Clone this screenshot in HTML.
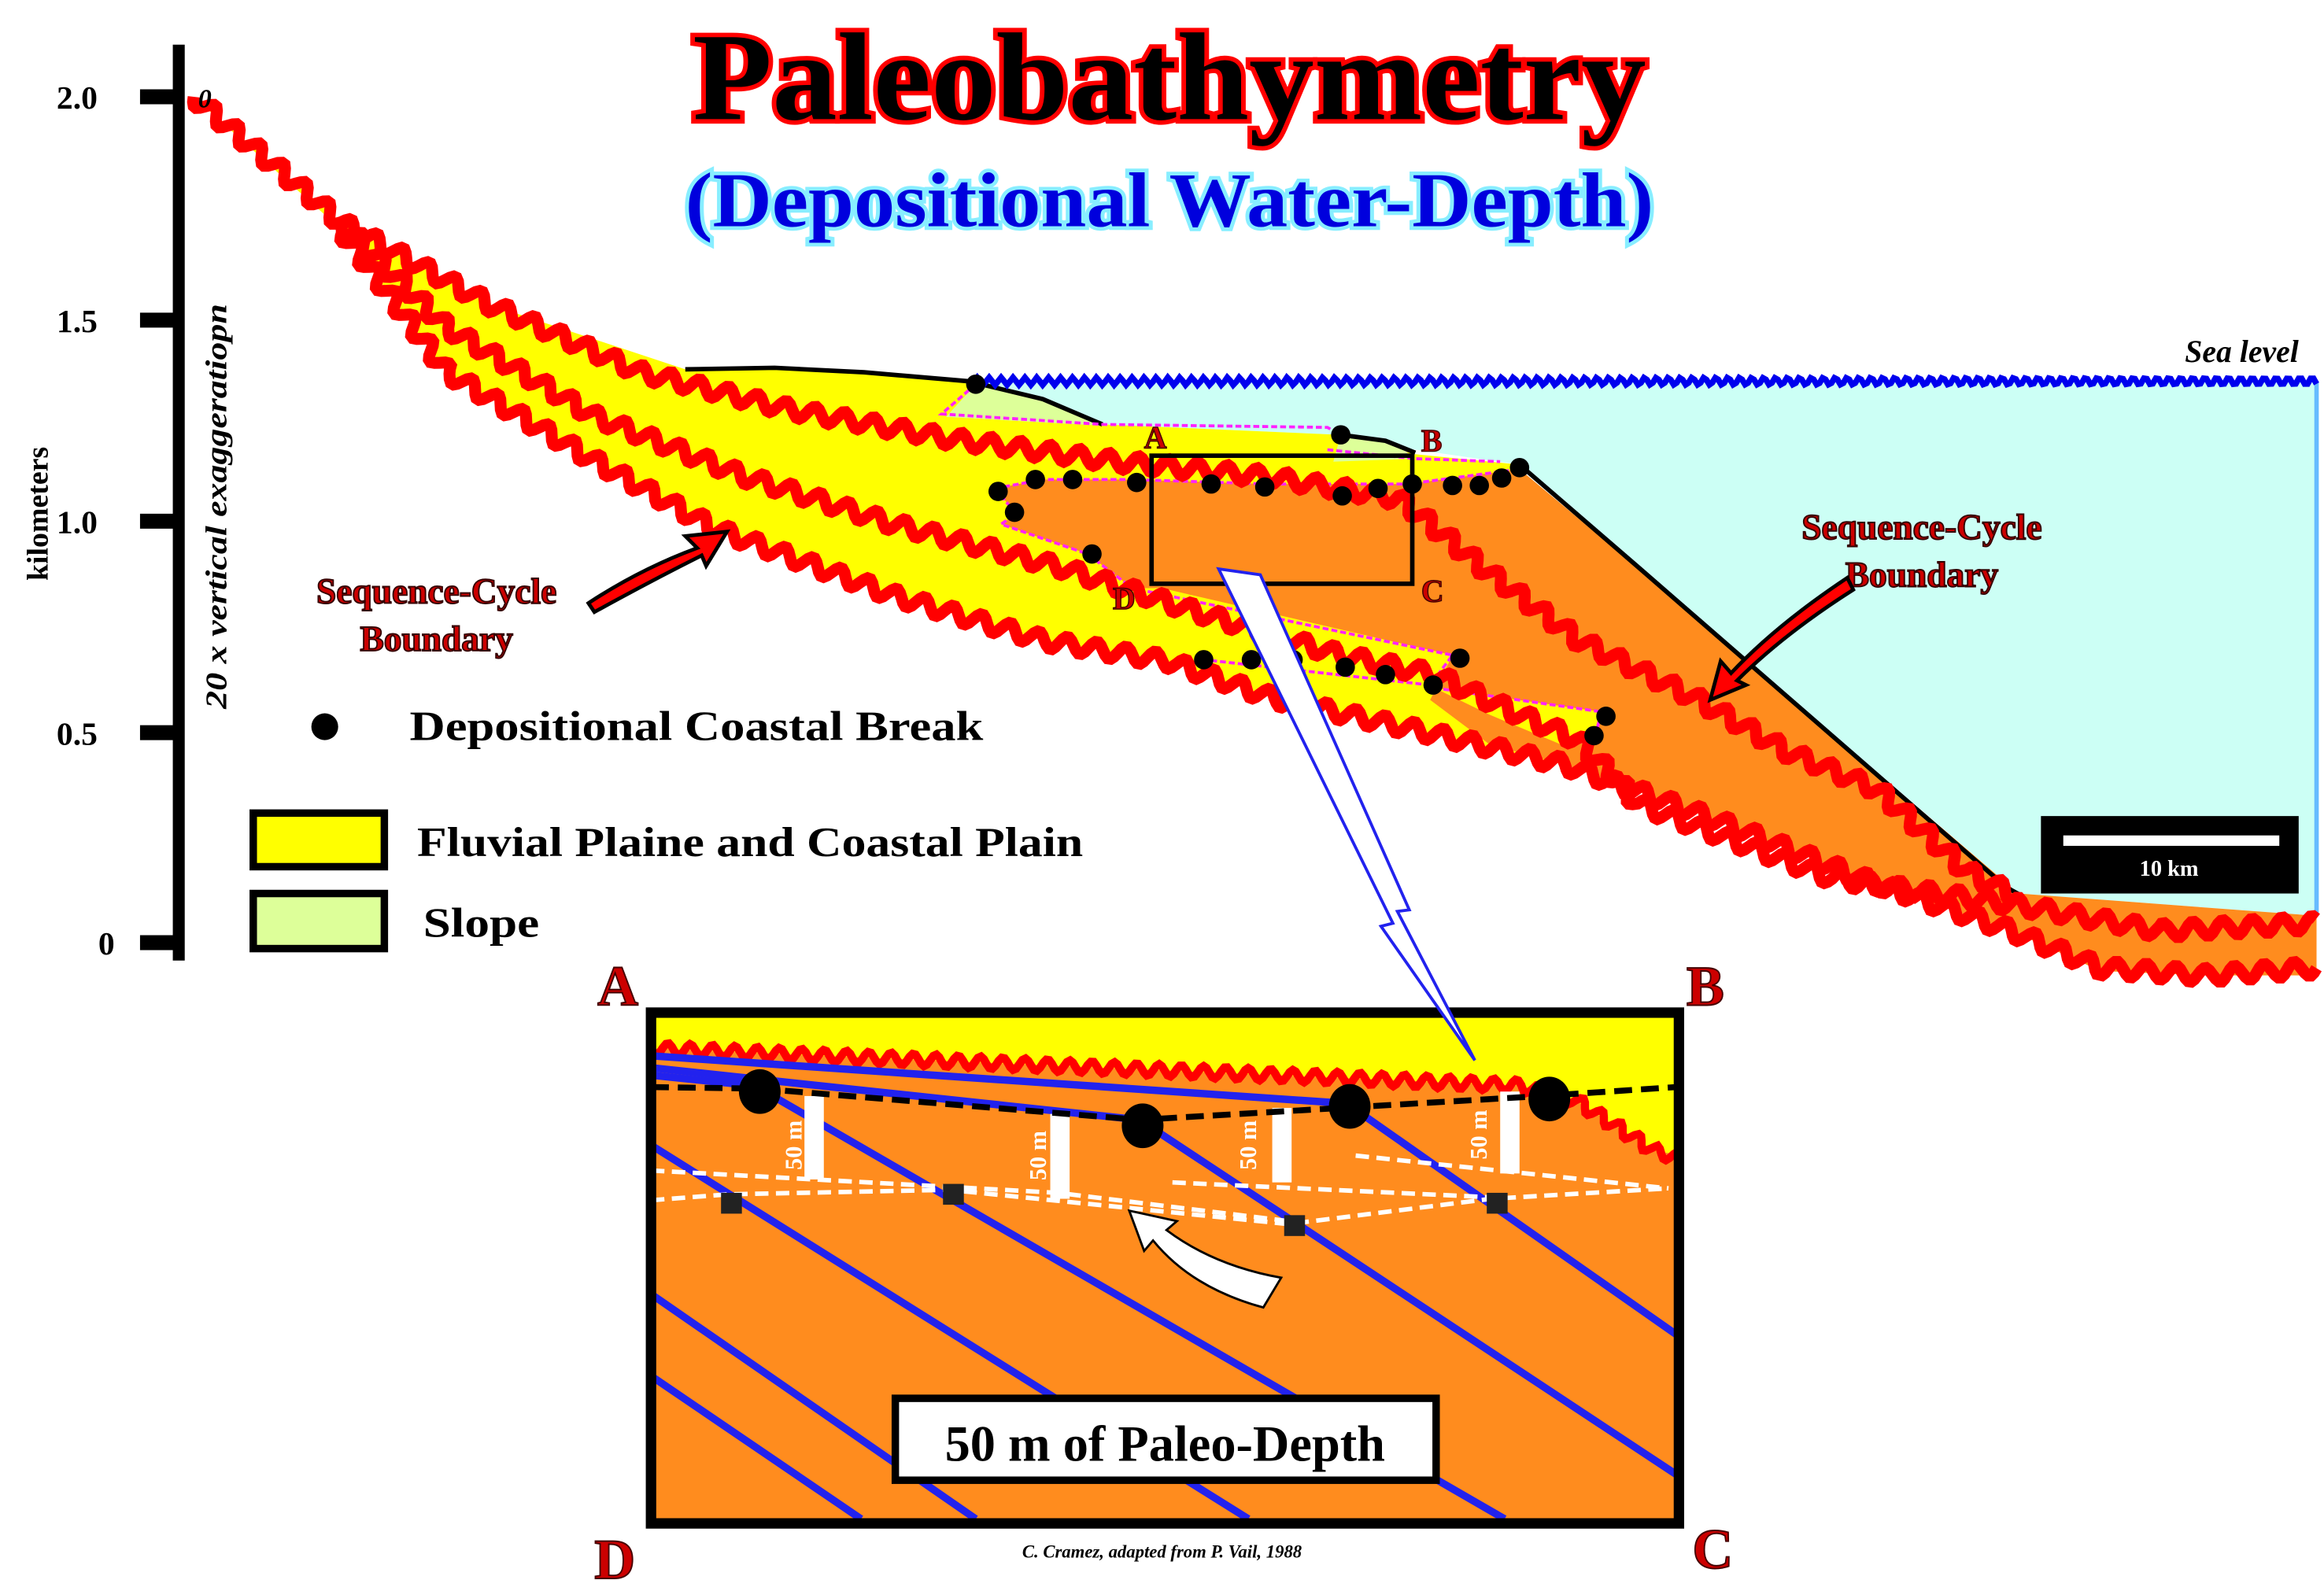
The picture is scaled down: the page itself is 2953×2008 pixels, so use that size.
<!DOCTYPE html>
<html><head><meta charset="utf-8"><style>
html,body{margin:0;padding:0;background:#fff;}
svg{display:block;}
text{font-family:"Liberation Serif",serif;font-weight:bold;}
</style></head><body>
<svg id="s" width="2953" height="2008" viewBox="0 0 1560 1061" preserveAspectRatio="none" xmlns="http://www.w3.org/2000/svg">
<polygon points="650,256 1555,256 1555,615 1355,600 1020,312 950,302 900,292 740,285 700,268 650,256" fill="#ccfff5"/>
<line x1="1555" y1="256" x2="1555" y2="615" stroke="#66bbff" stroke-width="3"/>
<polygon points="130,65 230,150 330,205 460,248 560,248 650,256 700,268 740,285 900,292 950,305 1020,312 1000,385 1060,430 1080,500 1052,514 950,490 855,469 784,444 700,430 600,400 480,355 400,310 300,250 230,155" fill="#ffff00"/>
<polygon points="655,258 700,268 742,286 635,280" fill="#ddff99"/>
<polygon points="900,292 935,297 950,308 895,310" fill="#ddff99"/>
<polygon points="668,328 700,322 760,322 850,325 945,325 1020,315 1100,382 1355,600 1555,615 1555,655 1480,655 1410,652 1350,625 1250,590 1150,550 1052,514 1000,500 960,470 975,440 780,395 760,395 730,372 672,352 682,345" fill="#ff8c1e"/>
<polygon points="760,395 975,440 960,462 808,445 790,420" fill="#ffff00"/>
<polygon points="963,462 1075,478 1070,497 1048,500 1000,480" fill="#ffff00"/>
<polyline points="460,248 520,247 580,250 650,256 700,268 740,285" fill="none" stroke="#000" stroke-width="3"/>
<polyline points="900,292 930,296 950,304" fill="none" stroke="#000" stroke-width="3"/>
<polyline points="1020,312 1101,382 1347,596 1358,602" fill="none" stroke="#000" stroke-width="3"/>
<g fill="none" stroke="#ff22ff" stroke-width="2" stroke-dasharray="4,2">
<polyline points="655,258 632,278 740,285 891,287 900,292"/>
<polyline points="891,302 950,308 1007,310"/>
<polyline points="668,328 700,322 760,322 850,325 945,325 1020,315"/>
<polyline points="668,328 682,345 672,352 730,372 760,395 975,440 960,460 808,443"/>
<polyline points="963,462 1075,478 1070,497 1048,500"/>
</g>
<path id="w1" d="M130,65 L230,150 L330,205 L430,250 L530,275 L640,295 L750,310 L850,320 L940,335 L1000,385 L1060,430 L1140,470 L1200,505 L1260,530 L1320,585 L1350,600" fill="none" stroke="#ff0000" stroke-width="8"/>
<path id="w2" d="M230,150 L300,220 L400,280 L500,320 L600,352 L712,381 L800,410 L900,440 L963,453 L1020,480 L1060,497 L1100,540 L1230,590 L1356,608 L1450,625 L1555,620" fill="none" stroke="#ff0000" stroke-width="8"/>
<path id="w3" d="M230,155 L300,250 L400,310 L480,355 L600,400 L700,430 L784,444 L855,469 L950,490 L1052,514 L1150,550 L1250,590 L1350,625 L1410,650 L1480,655 L1555,650" fill="none" stroke="#ff0000" stroke-width="8"/>
<path id="sea" d="M650,256 L1555,256" fill="none" stroke="#0000ee" stroke-width="4"/>
<g fill="#000">
<circle cx="655" cy="258" r="6.5"/><circle cx="900" cy="292" r="6.5"/><circle cx="670" cy="330" r="6.5"/><circle cx="695" cy="322" r="6.5"/><circle cx="720" cy="322" r="6.5"/><circle cx="763" cy="324" r="6.5"/><circle cx="813" cy="325" r="6.5"/><circle cx="849" cy="327" r="6.5"/><circle cx="901" cy="333" r="6.5"/><circle cx="925" cy="328" r="6.5"/><circle cx="948" cy="325" r="6.5"/><circle cx="975" cy="326" r="6.5"/><circle cx="993" cy="326" r="6.5"/><circle cx="1008" cy="321" r="6.5"/><circle cx="1020" cy="314" r="6.5"/><circle cx="681" cy="344" r="6.5"/><circle cx="733" cy="372" r="6.5"/><circle cx="808" cy="443" r="6.5"/><circle cx="840" cy="443" r="6.5"/><circle cx="868" cy="443" r="6.5"/><circle cx="903" cy="448" r="6.5"/><circle cx="930" cy="453" r="6.5"/><circle cx="962" cy="460" r="6.5"/><circle cx="980" cy="442" r="6.5"/><circle cx="1078" cy="481" r="6.5"/><circle cx="1070" cy="494" r="6.5"/>
</g>
<rect x="773" y="306" width="175" height="86" fill="none" stroke="#000" stroke-width="3"/>
<g fill="#cc0000" stroke="#400" stroke-width="0.8" font-size="21">
<text x="768" y="301">A</text><text x="954" y="303">B</text><text x="954" y="404">C</text><text x="747" y="409">D</text>
</g>
<line x1="120" y1="30" x2="120" y2="645" stroke="#000" stroke-width="8"/>
<g stroke="#000" stroke-width="10">
<line x1="94" y1="65" x2="120" y2="65"/><line x1="94" y1="215" x2="120" y2="215"/><line x1="94" y1="350" x2="120" y2="350"/><line x1="94" y1="492" x2="120" y2="492"/><line x1="94" y1="633" x2="120" y2="633"/>
</g>
<g font-size="22" fill="#000">
<text x="38" y="73">2.0</text><text x="38" y="223">1.5</text><text x="38" y="358">1.0</text><text x="38" y="500">0.5</text><text x="66" y="641">0</text>
</g>
<text x="133" y="72" font-size="18" font-style="italic">0</text>
<text transform="translate(32,345) rotate(-90)" text-anchor="middle" font-size="20" font-family="Liberation Sans">kilometers</text>
<text transform="translate(152,340) rotate(-90)" text-anchor="middle" font-size="20" font-style="italic" textLength="272" lengthAdjust="spacingAndGlyphs">20 x vertical exaggeratiopn</text>
<text x="785" y="80" text-anchor="middle" font-size="84" fill="#000" stroke="#ff0000" stroke-width="6" paint-order="stroke" textLength="640" lengthAdjust="spacingAndGlyphs">Paleobathymetry</text>
<text x="785" y="152" text-anchor="middle" font-size="52" fill="#0000dd" stroke="#88eeff" stroke-width="5" paint-order="stroke" textLength="650" lengthAdjust="spacingAndGlyphs">(Depositional Water-Depth)</text>
<text x="1543" y="243" text-anchor="end" font-size="21" font-style="italic">Sea level</text>
<g font-size="24" fill="#cc0000" stroke="#300" stroke-width="1" text-anchor="middle">
<text x="293" y="405">Sequence-Cycle</text><text x="293" y="437">Boundary</text>
<text x="1290" y="362">Sequence-Cycle</text><text x="1290" y="394">Boundary</text>
</g>
<path d="M395,405 Q430,382 468,368 L460,360 L488,357 L474,380 L471,373 Q437,390 399,411 Z" fill="#ff0000" stroke="#000" stroke-width="2.5"/>
<path d="M1240,388 Q1192,420 1162,452 L1155,444 L1148,470 L1172,460 L1166,457 Q1197,426 1244,396 Z" fill="#ff0000" stroke="#000" stroke-width="2.5"/>
<circle cx="218" cy="488" r="9" fill="#000"/>
<text x="275" y="497" font-size="28" textLength="385" lengthAdjust="spacingAndGlyphs">Depositional Coastal Break</text>
<rect x="170" y="546" width="88" height="36" fill="#ffff00" stroke="#000" stroke-width="5"/>
<text x="280" y="575" font-size="28" textLength="447" lengthAdjust="spacingAndGlyphs">Fluvial Plaine and Coastal Plain</text>
<rect x="170" y="600" width="88" height="37" fill="#ddff99" stroke="#000" stroke-width="5"/>
<text x="284" y="629" font-size="28" textLength="78" lengthAdjust="spacingAndGlyphs">Slope</text>
<rect x="1370" y="548" width="173" height="52" fill="#000"/>
<rect x="1385" y="561" width="145" height="7" fill="#fff"/>
<text x="1456" y="588" font-size="15" fill="#fff" text-anchor="middle">10 km</text>
<rect x="437" y="680" width="690" height="343" fill="#ff8c1e"/>
<path d="M437,683 L1125,683 L1125,775 L1111,773 L1056,738 L1020,729 L437,704 Z" fill="#ffff00"/>
<path id="w4" d="M437,704 L1020,729 L1056,738 L1111,773 L1125,777" fill="none" stroke="#ff0000" stroke-width="5.5"/>
<g stroke="#2222ee" stroke-width="5" fill="none">
<line x1="437" y1="709" x2="904" y2="741"/>
<line x1="437" y1="717" x2="765" y2="752"/>
<line x1="437" y1="722" x2="515" y2="730"/>
<line x1="510" y1="731" x2="1010" y2="1020"/>
<line x1="765" y1="752" x2="1125" y2="990"/>
<line x1="904" y1="741" x2="1125" y2="896"/>
<line x1="437" y1="769" x2="838" y2="1020"/>
<line x1="437" y1="869" x2="655" y2="1020"/>
<line x1="437" y1="924" x2="578" y2="1020"/>
</g>
<g stroke="#fff" stroke-width="3" stroke-dasharray="9,5" fill="none">
<polyline points="437,786 710,801 865,820"/>
<polyline points="437,806 489,802 637,799 865,822 1001,805 1120,798"/>
<polyline points="787,794 1001,804"/>
<polyline points="910,776 1120,798"/>
</g>
<g fill="#fff">
<rect x="540" y="736" width="13" height="56"/><rect x="705" y="748" width="13" height="57"/><rect x="854" y="744" width="13" height="50"/><rect x="1007" y="733" width="13" height="55"/>
</g>
<g fill="#fff" font-size="16" text-anchor="middle">
<text transform="translate(538,769) rotate(-90)">50 m</text>
<text transform="translate(702,776) rotate(-90)">50 m</text>
<text transform="translate(843,769) rotate(-90)">50 m</text>
<text transform="translate(998,762) rotate(-90)">50 m</text>
</g>
<polyline points="437,730 509,731 765,752 1035,736 1125,730" fill="none" stroke="#000" stroke-width="4" stroke-dasharray="12,6"/>
<g fill="#000">
<ellipse cx="510" cy="733" rx="14" ry="15"/><ellipse cx="767" cy="756" rx="14" ry="15"/><ellipse cx="906" cy="743" rx="14" ry="15"/><ellipse cx="1040" cy="738" rx="14" ry="15"/>
</g>
<g fill="#222">
<rect x="484" y="801" width="14" height="14"/><rect x="633" y="795" width="14" height="14"/><rect x="862" y="816" width="14" height="14"/><rect x="998" y="801" width="14" height="14"/>
</g>
<path d="M758,813 L790,820 L783,826 Q815,850 860,858 L848,878 Q800,865 774,833 L768,840 Z" fill="#fff" stroke="#000" stroke-width="1.5"/>
<rect x="437" y="680" width="690" height="343" fill="none" stroke="#000" stroke-width="7"/>
<rect x="601" y="939" width="363" height="55" fill="#fff" stroke="#000" stroke-width="5"/>
<text x="782" y="981" text-anchor="middle" font-size="34">50 m of Paleo-Depth</text>
<text x="780" y="1046" text-anchor="middle" font-size="12" font-style="italic">C. Cramez, adapted from P. Vail, 1988</text>
<g fill="#cc0000" stroke="#400" stroke-width="1" font-size="38">
<text x="401" y="675">A</text><text x="1132" y="675">B</text><text x="399" y="1060">D</text><text x="1136" y="1053">C</text>
</g>
<polygon points="818,382 846,386 946,611 938,612 990,712 927,622 935,620" fill="#fff" stroke="#2222ee" stroke-width="2"/>
</svg>
<script>
function wave(id,amp,wl){
 var p=document.getElementById(id);var L=p.getTotalLength();var n=Math.ceil(L/2);var d="";
 for(var i=0;i<=n;i++){var s=i*L/n;var a=p.getPointAtLength(s);var b=p.getPointAtLength(Math.min(L,s+0.5));var c=p.getPointAtLength(Math.max(0,s-0.5));
 var dx=b.x-c.x,dy=b.y-c.y,m=Math.hypot(dx,dy)||1;var o=amp*Math.sin(2*Math.PI*s/wl);
 var x=a.x-dy/m*o,y=a.y+dx/m*o;d+=(i?"L":"M")+x.toFixed(1)+","+y.toFixed(1);}
 p.setAttribute("d",d);}
try{wave("w1",5,20);wave("w2",5,20);wave("w3",5,20);wave("w4",4,15);wave("sea",2.5,8);}catch(e){}
</script>
</body></html>
